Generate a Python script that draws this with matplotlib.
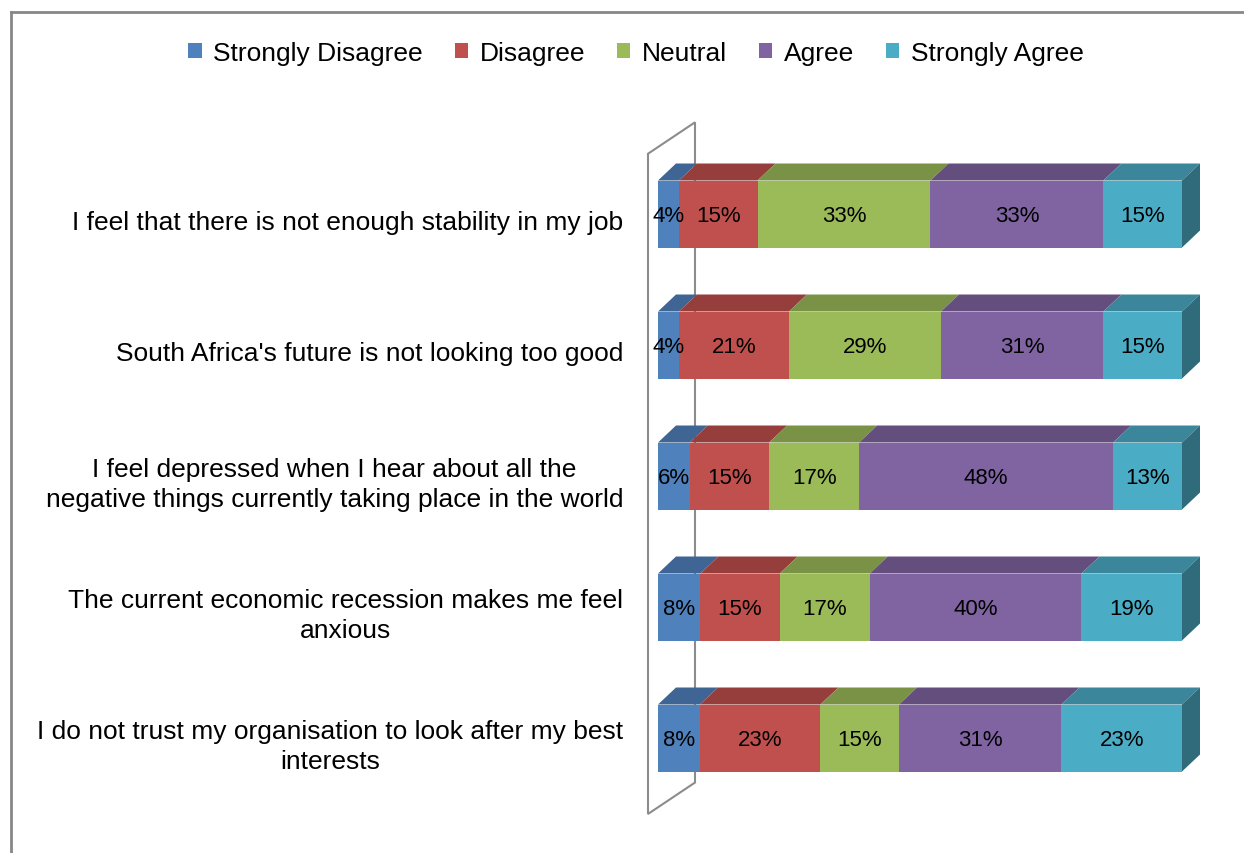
import numpy as np
import matplotlib
matplotlib.use("Agg")
import matplotlib.pyplot as plt
from matplotlib.patches import Polygon, Patch
from matplotlib.lines import Line2D

plt.rcParams['font.family'] = ['Liberation Sans', 'DejaVu Sans']

# data
statements = [
    "I feel that there is not enough stability in my job",
    "South Africa's future is not looking too good",
    "I feel depressed when I hear about all the\nnegative things currently taking place in the world",
    "The current economic recession makes me feel\nanxious",
    "I do not trust my organisation to look after my best\ninterests",
]
series_names = ["Strongly Disagree", "Disagree", "Neutral", "Agree", "Strongly Agree"]
strongly_disagree = [4, 4, 6, 8, 8]
disagree = [15, 21, 15, 15, 23]
neutral = [33, 29, 17, 17, 15]
agree = [33, 31, 48, 40, 31]
strongly_agree = [15, 15, 13, 19, 23]

colors = ["#4F81BD", "#C0504D", "#9BBB59", "#8064A2", "#4BACC6"]


def darken(c, f):
    r, g, b = matplotlib.colors.to_rgb(c)
    return (r * f, g * f, b * f)


W, H = 1244, 854
fig = plt.figure(figsize=(W / 100, H / 100), dpi=100)

# outer frame (only top/left visible)
fig.add_artist(Line2D([10.5 / W, 1.0], [1 - 12.5 / H] * 2, color="#878787", lw=2))
fig.add_artist(Line2D([10.5 / W] * 2, [0, 1 - 12.5 / H], color="#878787", lw=2))

ax = fig.add_axes([640 / W, 1 - 830 / H, 575 / W, 720 / H])
px_x = 5.24   # pixels per percent
px_y = 131.0  # pixels per category
ax.set_xlim(-18 / px_x, 100 + 33 / px_x)
ax.set_ylim(4 + 91 / px_y, -105 / px_y)
ax.axis("off")

vals = np.array([strongly_disagree, disagree, neutral, agree, strongly_agree], dtype=float)
pct = vals / vals.sum(axis=0) * 100
y = np.arange(len(statements))
h = 67 / px_y
dx = 18 / px_x
dy = 17 / px_y

# side wall outline
wall_x = [-10 / px_x, 37 / px_x]
wall = [(wall_x[0], -0.46), (wall_x[1], -0.70), (wall_x[1], 4.34), (wall_x[0], 4.58)]
ax.add_patch(Polygon(wall, closed=True, fill=False, edgecolor="#8c8c8c", lw=1.5, zorder=1))

left = np.zeros(len(statements))
for i in range(len(series_names)):
    ax.barh(y, pct[i], left=left, height=h, color=colors[i], zorder=3)
    for j in range(len(statements)):
        x0, x1 = left[j], left[j] + pct[i, j]
        top = y[j] - h / 2
        ax.add_patch(Polygon([(x0, top), (x1, top), (x1 + dx, top - dy), (x0 + dx, top - dy)],
                             closed=True, color=darken(colors[i], 0.78), lw=0, zorder=2))
        if i == len(series_names) - 1:
            bot = y[j] + h / 2
            ax.add_patch(Polygon([(x1, top), (x1 + dx, top - dy), (x1 + dx, bot - dy), (x1, bot)],
                                 closed=True, color=darken(colors[i], 0.62), lw=0, zorder=2))
        ax.text((x0 + x1) / 2, y[j] + 0.01, f"{int(vals[i, j])}%", ha="center", va="center",
                fontsize=16, color="black", zorder=5)
    left += pct[i]

# category labels
for j, s in enumerate(statements):
    ax.text(-35 / px_x, y[j] + 0.06, s, ha="right", va="center", multialignment="center",
            fontsize=19, color="black", clip_on=False, linespacing=1.3)

handles = [Patch(facecolor=c, edgecolor="none") for c in colors]
fig.legend(handles, series_names, loc="center", bbox_to_anchor=(636 / W, 1 - 54 / H), ncol=5,
           frameon=False, fontsize=19, handlelength=0.5, handleheight=0.5, handletextpad=0.45,
           columnspacing=1.2)

fig.savefig("out.png", dpi=100)
